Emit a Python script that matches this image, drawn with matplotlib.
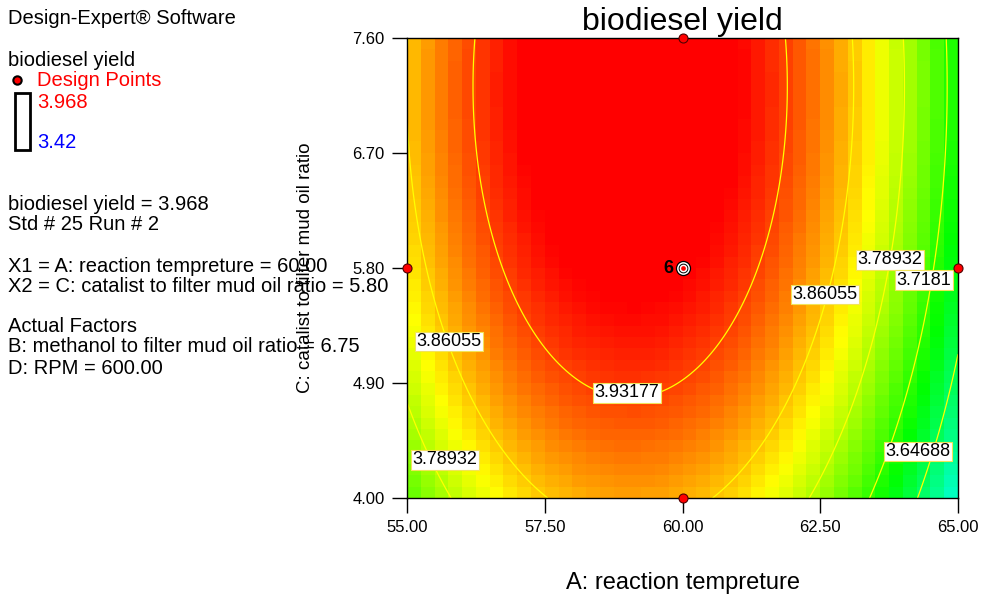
import numpy as np
import matplotlib.pyplot as plt
from matplotlib.colors import LinearSegmentedColormap, Normalize
from matplotlib.patches import Rectangle

plt.rcParams['font.family'] = ['Liberation Sans', 'DejaVu Sans']

# quadratic model in coded units a = (A-60)/5, c = (C-5.8)/1.8
# coefficients estimated from the contour lines of the picture
b0 = 3.970
bA = -0.0813
bC = 0.060
bAC = 0.0
bAA = -0.214
bCC = -0.038

A_lim = [55.0, 65.0]
C_lim = [4.0, 7.6]
levels = [3.64688, 3.7181, 3.78932, 3.86055, 3.93177]
y_low = 3.42
y_high = 3.968

design_A = [60, 55, 65, 60]
design_C = [7.6, 5.8, 5.8, 4.0]
center_A = 60
center_C = 5.8
center_n = 6

xticks = [55.0, 57.5, 60.0, 62.5, 65.0]
yticks = [4.0, 4.9, 5.8, 6.7, 7.6]

# where the contour labels sit (data coords)
label_pos = [(58.99, 4.822), (55.76, 5.225), (55.69, 4.298), (62.59, 5.593),
             (63.76, 5.863), (64.38, 5.706), (64.28, 4.364)]


def yield_model(A, C):
    a = (A - 60) / 5
    c = (C - 5.8) / 1.8
    return b0 + bA * a + bC * c + bAC * a * c + bAA * a ** 2 + bCC * c ** 2


cmap = LinearSegmentedColormap.from_list(
    "de", ["#0000ff", "#00ffff", "#00ff00", "#ffff00", "#ff0000"])
norm = Normalize(y_low, y_high)

fig = plt.figure(figsize=(9.82, 6.0), dpi=100)
ax = fig.add_axes([407 / 982, 102 / 600, 551 / 982, 460 / 600])

# blocky colour cells like Design-Expert
ea = np.linspace(A_lim[0], A_lim[1], 41)
ec = np.linspace(C_lim[0], C_lim[1], 41)
ma, mc = np.meshgrid((ea[:-1] + ea[1:]) / 2, (ec[:-1] + ec[1:]) / 2)
ax.pcolormesh(ea, ec, yield_model(ma, mc), cmap=cmap, norm=norm)

fa, fc = np.meshgrid(np.linspace(A_lim[0], A_lim[1], 300),
                     np.linspace(C_lim[0], C_lim[1], 300))
cs = ax.contour(fa, fc, yield_model(fa, fc), levels=levels,
                colors="#ffff00", linewidths=0.9)
labels = ax.clabel(cs, manual=label_pos, fmt="%g", fontsize=13, inline=False)
for t, pos in zip(labels, label_pos):
    t.set_position(pos)
    t.set_rotation(0)
    t.set_color("black")
    t.set_bbox(dict(facecolor="white", edgecolor="#f2e35a", pad=1.0, lw=0.8))
    t.set_zorder(5)

ax.plot(design_A, design_C, "o", ms=6.5, mfc="red", mec="#500000", mew=0.8,
        clip_on=False, zorder=6)
for ms, col in [(11, "black"), (9.2, "white"), (7, "black"), (5.6, "white"), (3.4, "red")]:
    ax.plot([center_A], [center_C], "o", ms=ms, mfc=col, mec="none", zorder=7)
ax.text(center_A - 0.17, center_C, str(center_n), ha="right", va="center",
        fontsize=13, fontweight="bold", zorder=7)

ax.set_xlim(A_lim)
ax.set_ylim(C_lim)
ax.set_xticks(xticks)
ax.set_yticks(yticks)
ax.set_xticklabels([f"{v:.2f}" for v in xticks])
ax.set_yticklabels([f"{v:.2f}" for v in yticks])
ax.tick_params(direction="out", length=11, width=1, labelsize=12, pad=5)
for s in ax.spines.values():
    s.set_linewidth(1)

ax.set_title("biodiesel yield", fontsize=23, pad=6)
ax.set_xlabel("A: reaction tempreture", fontsize=17, va="center")
ax.xaxis.set_label_coords(0.5, -0.185)
ax.set_ylabel("C: catalist to filter mud oil ratio", fontsize=13.5, va="center")
ax.yaxis.set_label_coords(-0.185, 0.5)

# left information panel
def ptext(x, y, s, **kw):
    fig.text(x / 982, 1 - y / 600, s, va="center", fontsize=14.5, **kw)

ptext(8, 19, "Design-Expert® Software")
ptext(8, 61, "biodiesel yield")
ptext(37, 81, "Design Points", color="red")
ptext(37, 102, f"{y_high}", color="red")
ptext(37, 143, f"{y_low}", color="blue")
ptext(8, 204, f"biodiesel yield = {y_high}")
ptext(8, 224, "Std # 25 Run # 2")
ptext(8, 266, f"X1 = A: reaction tempreture = {center_A:.2f}")
ptext(8, 286, f"X2 = C: catalist to filter mud oil ratio = {center_C:.2f}")
ptext(8, 327, "Actual Factors")
ptext(8, 347, "B: methanol to filter mud oil ratio = 6.75")
ptext(8, 368, "D: RPM = 600.00")

fig.add_artist(plt.Line2D([17 / 982], [1 - 80 / 600], marker="o", ms=6,
                          mfc="red", mec="black", mew=1.5, transform=fig.transFigure))
fig.add_artist(Rectangle((15 / 982, 1 - 150 / 600), 15 / 982, 57 / 600,
                         fill=False, lw=2, ec="black", transform=fig.transFigure))

fig.savefig("out.png", dpi=100)
